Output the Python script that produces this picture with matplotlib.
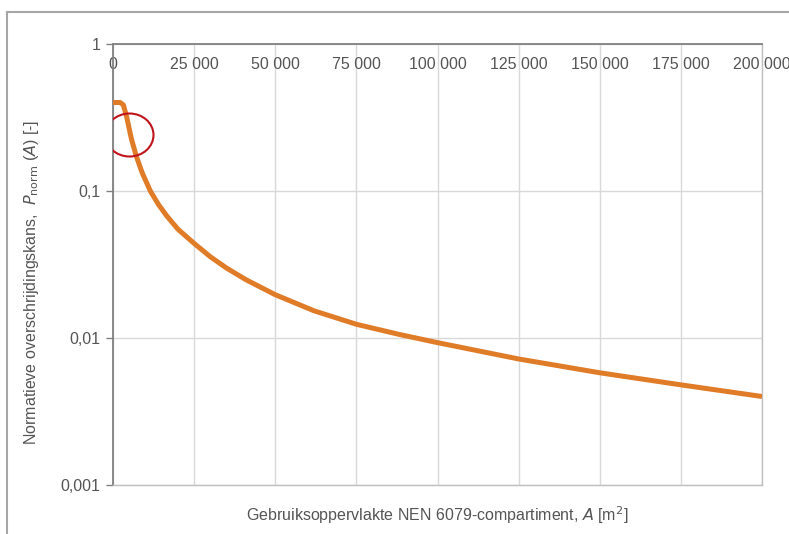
import numpy as np
import matplotlib.pyplot as plt
from matplotlib.patches import Ellipse
from matplotlib.lines import Line2D
from matplotlib.ticker import FixedLocator, NullLocator

plt.rcParams['font.family'] = ['Liberation Sans', 'DejaVu Sans']

# area A [m2] and normative exceedance probability
area = [0, 2200, 3200, 4200, 5700, 7200, 9000, 11500, 14000, 16500, 20000, 25000,
        30000, 35000, 41000, 50000, 62000, 75000, 88000, 100000, 125000, 150000,
        175000, 200000]
p_norm = [0.4, 0.4, 0.385, 0.32, 0.225, 0.172, 0.133, 0.1, 0.081, 0.068, 0.055, 0.044,
          0.0357, 0.0299, 0.0249, 0.0197, 0.0153, 0.0124, 0.0106, 0.0093, 0.0072, 0.0058,
          0.0048, 0.004]

xticks = [0, 25000, 50000, 75000, 100000, 125000, 150000, 175000, 200000]
xlabels = ['0', '25 000', '50 000', '75 000', '100 000', '125 000', '150 000', '175 000', '200 000']
yticks = [0.001, 0.01, 0.1, 1]
ylabels = ['0,001', '0,01', '0,1', '1']

txt = '#555555'
fs = 11.5
fig = plt.figure(figsize=(7.89, 5.34), dpi=100)
ax = fig.add_axes([113/789, 49/534, 649/789, 441/534])

ax.plot(area, p_norm, color='#E07B28', linewidth=3.6, solid_capstyle='butt',
        solid_joinstyle='round', zorder=3)
ax.set_yscale('log')
ax.set_xlim(0, 200000)
ax.set_ylim(0.001, 1)

ax.xaxis.set_major_locator(FixedLocator(xticks))
ax.set_xticklabels(xlabels)
ax.yaxis.set_major_locator(FixedLocator(yticks))
ax.yaxis.set_minor_locator(NullLocator())
ax.set_yticklabels(ylabels)

ax.tick_params(axis='x', bottom=False, labelbottom=False, top=False, labeltop=True,
               pad=-24, labelsize=fs, colors=txt)
ax.tick_params(axis='y', length=5, width=1, color='#808080', labelsize=fs,
               labelcolor=txt, pad=4)
ax.grid(True, which='major', color='#d9d9d9', linewidth=1)
for side in ['left', 'top']:
    ax.spines[side].set_color('#808080')
    ax.spines[side].set_linewidth(1.3)
for side in ['right', 'bottom']:
    ax.spines[side].set_color('#bfbfbf')
    ax.spines[side].set_linewidth(1)

ax.set_xlabel('Gebruiksoppervlakte NEN 6079-compartiment, $\\it{A}$ [m$^2$]',
              fontsize=fs, color=txt, labelpad=14)
fig.text(32/789, 1 - 282/534,
         'Normatieve overschrijdingskans,  $\\it{P}_{\\rm norm}$ ($\\it{A}$) [-]',
         rotation=90, fontsize=fs, color=txt, ha='center', va='center')

# red circle marking the knee
ax.add_patch(Ellipse((129.5/789, 1 - 135/534), 48/789, 43/534, transform=fig.transFigure,
                     fill=False, edgecolor='#C0141C', linewidth=1.5, zorder=5))

# outer frame of the screenshot
fig.add_artist(Line2D([7/789, 1], [1 - 12/534, 1 - 12/534], color='#a6a6a6', linewidth=1.5,
                      transform=fig.transFigure))
fig.add_artist(Line2D([7/789, 7/789], [0, 1 - 12/534], color='#a6a6a6', linewidth=1.5,
                      transform=fig.transFigure))

fig.savefig('out.png', dpi=100)
